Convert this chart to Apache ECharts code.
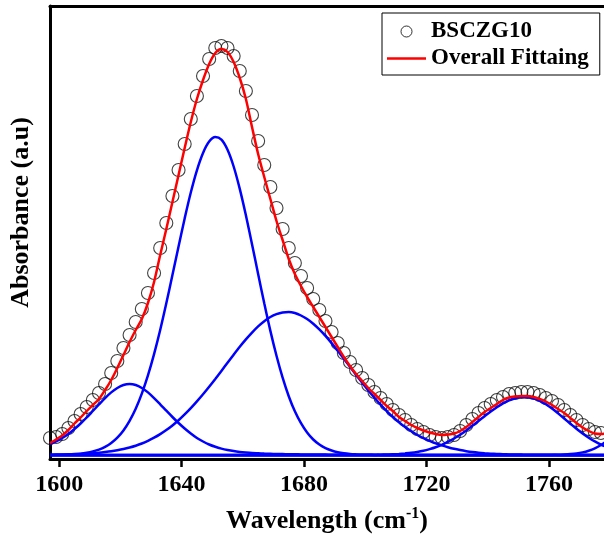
<!DOCTYPE html>
<html>
<head>
<meta charset="utf-8">
<script src="https://cdn.jsdelivr.net/npm/echarts@6/dist/echarts.min.js"></script>
<style>html,body{margin:0;padding:0;background:#fff;}#chart{width:604px;height:539px;}</style>
</head>
<body>
<div id="chart"></div>
<script>
// Wavelength grid (cm-1)
const wavelength = [1597,1599,1601,1603,1605,1607,1609,1611,1613,1615,1617,1619,1621,1623,1625,1627,1629,1631,1633,1635,1637,1639,1641,1643,1645,1647,1649,1651,1653,1655,1657,1659,1661,1663,1665,1667,1669,1671,1673,1675,1677,1679,1681,1683,1685,1687,1689,1691,1693,1695,1697,1699,1701,1703,1705,1707,1709,1711,1713,1715,1717,1719,1721,1723,1725,1727,1729,1731,1733,1735,1737,1739,1741,1743,1745,1747,1749,1751,1753,1755,1757,1759,1761,1763,1765,1767,1769,1771,1773,1775,1777,1779];
// Measured absorbance (BSCZG10), arbitrary units
const measured = [17,18,21,27,34,41,48,55,62,71,
 82,94,107,120,133,146,162,182,207,232,
 259,285,311,336,359,379,396,407,409,407,
 399,384,364,340,314,290,268,247,226,207,
 192,179,167,156,145,134,123,112,102,93,
 85,77,70,63,57,51,45,40,35,30,
 26,23,20,18,17,18,20,24,30,36,
 42,47,51,55,58,61,62,63,63,62,
 60,57,54,50,45,40,35,30,26,23,
 22];
// Overall fitting
const overallFit = [12,15.5,19.5,25,31.5,37.5,44,50,56,65,
 75,87,100,113,125,136,152,173,200,226,
 253,280,307,333,356,375,391,402,406,403,
 393,377,356,328,301,278,256,234,215,196,
 181,169,158,148,138,128,118,108,98,89,
 81,74,67,61,55,49,44,38,34,30,
 27,24.5,22.5,21,20,20.5,21.5,24,28,33,
 38,43,47,51,55,57.5,58.5,59,59,58,
 56,53.5,50,46,42,37,32,27.5,24,21.5,
 21,22];
// Component peaks
const peak1622 = [11,13.5,17,21,26,31.5,37.5,44,50.5,56.9,
 62.6,67,70,71,70,67,62.6,56.9,50.7,44.3,
 38,32,26.5,21.5,17,13.5,10.5,8.2,6.4,5,
 3.9,3.1,2.5,2,1.7,1.4,1.2,1,0.9,0.8,
 0.7,0.6,0.5,0.5,0.4,0.4,0.3,0.3,0.3,0.2,
 0.2,0.2,0.2,0.2,0.1,0.1,0.1,0.1,0.1,0.1,
 0.1,0.1,0.1,0.1,0.1,0.1,0.1,0.1,0.1,0.1,
 0,0,0,0,0,0,0,0,0,0,
 0,0,0,0,0,0,0,0,0,0,
 0,0];
const peak1651 = [0.1,0.2,0.3,0.5,0.8,1.3,2.2,3.5,5.3,8.1,
 12,17.4,24.6,34.2,46.3,61.4,79.6,100.9,125,151.7,
 179.9,208.6,236.6,262.5,284.7,302,313.4,318,315.3,305.2,
 288.5,266.1,239.7,210.8,181,151.7,124.1,99.2,77.3,58.8,
 43.7,31.8,22.5,15.5,10.5,6.9,4.5,2.8,1.7,1,
 0.6,0.3,0.2,0.1,0,0,0,0,0,0,
 0,0,0,0,0,0,0,0,0,0,
 0,0,0,0,0,0,0,0,0,0,
 0,0,0,0,0,0,0,0,0,0,
 0,0];
const peak1675 = [0.3,0.4,0.5,0.7,0.9,1.1,1.4,1.8,2.3,3,
 3.8,4.8,6,7.5,9.3,11.5,14.2,17.3,20.9,25,
 29.6,34.8,40.6,46.9,53.7,60.8,68.3,76.1,84.1,92.2,
 100.3,108.2,115.6,122.4,128.6,133.8,138,140.9,142.6,143,
 142,139.5,136,131.3,125.6,119.1,111.9,104.2,96.3,88.2,
 80.1,72.2,64.5,57.2,50.3,43.9,38,32.8,27.9,23.8,
 20,16.9,14.1,11.7,9.6,7.8,6.2,4.9,3.8,2.9,
 2.2,1.7,1.3,1,0.8,0.6,0.5,0.4,0.3,0.3,
 0.2,0.2,0.2,0.1,0.1,0.1,0.1,0.1,0.1,0.1,
 0.1,0.1];
const peak1752 = [0,0,0,0,0,0,0,0,0,0,
 0,0,0,0,0,0,0,0,0,0,
 0,0,0,0,0,0,0,0,0,0,
 0,0,0,0,0,0,0,0,0,0,
 0,0,0,0,0,0,0,0,0,0,
 0,0,0,0,0.3,0.5,0.7,1.1,1.6,2.2,
 3.1,4.3,5.9,7.8,10.2,13.1,16.5,20.3,24.6,29.2,
 34,38.8,43.5,47.8,51.6,54.7,56.8,57.9,57.8,56.6,
 54.2,50.7,46.5,41.6,36.5,31.3,26.2,21.5,17.3,13.6,
 10.4,7.8];
const peak1795 = [0,0,0,0,0,0,0,0,0,0,
 0,0,0,0,0,0,0,0,0,0,
 0,0,0,0,0,0,0,0,0,0,
 0,0,0,0,0,0,0,0,0,0,
 0,0,0,0,0,0,0,0,0,0,
 0,0,0,0,0,0,0,0,0,0,
 0,0,0,0,0,0,0,0,0,0,
 0,0,0,0,0,0,0,0,0,0,
 0,0.1,0.1,0.2,0.5,0.9,1.5,2.6,4.3,6.7,
 10,14.3];
const xTicks = [1600,1640,1680,1720,1760];
const legendNames = ['BSCZG10','Overall Fittaing'];

const pairs = arr => arr.map((v,i) => [wavelength[i], v]);
const FONT = 'Liberation Serif';
const blueLine = (name, arr) => ({
  name, type:'line', data: pairs(arr), showSymbol:false, symbol:'none', smooth:0.3, z:3,
  lineStyle:{color:'#0000ff', width:2.5}, itemStyle:{color:'#0000ff'}, silent:true
});

const chart = echarts.init(document.getElementById('chart'), null, {renderer:'canvas'});
const c1 = blueLine('p1', peak1622);
c1.markLine = {silent:true, symbol:'none', label:{show:false}, animation:false,
  lineStyle:{color:'#0000ff', width:2.5, type:'solid'}, data:[{yAxis:0}]};
chart.setOption({
  animation:false,
  backgroundColor:'#fff',
  grid:{left:49, right:0, top:6, bottom:80, containLabel:false},
  legend:{
    data:[
      {name:legendNames[0], icon:'circle', itemStyle:{color:'rgba(0,0,0,0)', borderColor:'#000', borderWidth:1}},
      {name:legendNames[1], icon:'path://M0,0L40,0L40,2.5L0,2.5Z', itemStyle:{color:'#ff0000', borderWidth:0}}
    ],
    orient:'vertical', left:382, top:13, itemWidth:39, itemHeight:11, itemGap:4,
    padding:[7,11,5,5], borderColor:'#000', borderWidth:1, backgroundColor:'#fff',
    textStyle:{fontFamily:FONT, fontWeight:'bold', fontSize:23, color:'#000', lineHeight:23},
    selectedMode:false
  },
  xAxis:[{
    type:'value', min:1597, max:1778,
    name:'{t|Wavelength (cm}{s|-1}{t|)}', nameLocation:'middle', nameGap:47,
    nameTextStyle:{rich:{
      t:{fontFamily:FONT, fontWeight:'bold', fontSize:26, color:'#000', lineHeight:30},
      s:{fontFamily:FONT, fontWeight:'bold', fontSize:16, color:'#000', verticalAlign:'top', lineHeight:18, padding:[0,0,8,0]}
    }},
    axisLine:{show:true, onZero:false, lineStyle:{color:'#000', width:3}},
    axisTick:{show:true, inside:false, length:8, lineStyle:{color:'#000', width:2.5}, customValues:xTicks},
    axisLabel:{show:true, margin:14, fontFamily:FONT, fontWeight:'bold', fontSize:24, color:'#000',
      customValues:xTicks, formatter: v => String(v)},
    splitLine:{show:false}
  },{
    type:'value', min:1597, max:1778, position:'top',
    axisLine:{show:true, onZero:false, lineStyle:{color:'#000', width:3}},
    axisTick:{show:false}, axisLabel:{show:false}, splitLine:{show:false}
  }],
  yAxis:{
    type:'value', min:-4, max:449,
    name:'Absorbance (a.u)', nameLocation:'middle', nameGap:16,
    nameTextStyle:{fontFamily:FONT, fontWeight:'bold', fontSize:26, color:'#000', padding:[0,0,0,40]},
    axisLine:{show:true, onZero:false, lineStyle:{color:'#000', width:3}},
    axisTick:{show:false}, axisLabel:{show:false}, splitLine:{show:false}
  },
  series:[
    {name:legendNames[0], type:'scatter', data: pairs(measured), symbol:'circle', symbolSize:13, z:2,
     itemStyle:{color:'rgba(0,0,0,0)', borderColor:'#111', borderWidth:1.1}, silent:true},
    c1,
    blueLine('p2', peak1651),
    blueLine('p3', peak1675),
    blueLine('p4', peak1752),
    blueLine('p5', peak1795),
    {name:legendNames[1], type:'line', data: pairs(overallFit), showSymbol:false, symbol:'none', smooth:0.3, z:4,
     lineStyle:{color:'#ff0000', width:2.5}, itemStyle:{color:'#ff0000'}, silent:true}
  ]
});
</script>
</body>
</html>
